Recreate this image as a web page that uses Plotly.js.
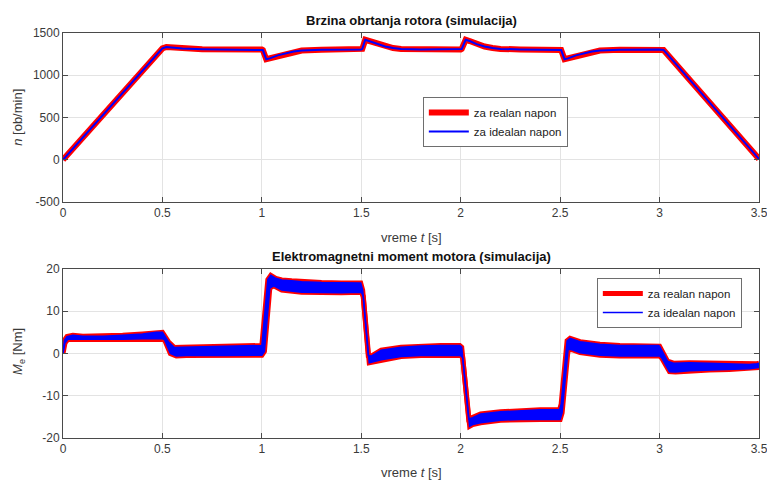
<!DOCTYPE html>
<html>
<head>
<meta charset="utf-8">
<script src="https://cdn.plot.ly/plotly-3.0.1.min.js"></script>
<style>
  html, body { margin: 0; padding: 0; background: #ffffff; }
  #grafik { width: 767px; height: 480px; }
</style>
</head>
<body>
<div id="grafik"></div>
<script>
// Brzina obrtanja rotora n [ob/min] u funkciji vremena t [s]
const tBrzina = [0, 0.5, 0.52, 0.55, 0.6, 0.7, 1.0, 1.005, 1.022, 1.04, 1.08, 1.12, 1.16, 1.2, 1.3,
                 1.5, 1.505, 1.52, 1.54, 1.58, 1.62, 1.66, 1.7, 1.8,
                 2.0, 2.005, 2.025, 2.045, 2.08, 2.12, 2.16, 2.2, 2.3,
                 2.5, 2.505, 2.522, 2.54, 2.58, 2.62, 2.66, 2.7, 2.8, 3.0, 3.02, 3.5];
const nBrzina = [0, 1318, 1334, 1328, 1316, 1308, 1305, 1298, 1190, 1200, 1235, 1260, 1280, 1292, 1302,
                 1305, 1312, 1420, 1405, 1368, 1340, 1322, 1312, 1306,
                 1305, 1312, 1420, 1405, 1368, 1340, 1322, 1312, 1306,
                 1305, 1298, 1190, 1200, 1235, 1262, 1282, 1293, 1302, 1305, 1300, 10];

// Elektromagnetni moment Me [Nm]: gornja i donja anvelopa talasnog opsega
const tGornja = [0, 0.008, 0.02, 0.05, 0.1, 0.2, 0.3, 0.4, 0.47, 0.5, 0.53, 0.56, 0.6, 0.8, 0.99,
                 1.0, 1.03, 1.045, 1.07, 1.1, 1.15, 1.2, 1.3, 1.4, 1.497,
                 1.507, 1.535, 1.55, 1.6, 1.7, 1.8, 1.9, 1.995,
                 2.005, 2.04, 2.06, 2.1, 2.2, 2.3, 2.4, 2.497,
                 2.505, 2.535, 2.55, 2.6, 2.7, 2.8, 2.9, 2.995,
                 3.0, 3.04, 3.07, 3.15, 3.25, 3.35, 3.45, 3.49, 3.5];
const mGornja = [0.5, 3.2, 4.0, 4.3, 4.1, 4.1, 4.3, 4.6, 5.0, 5.0, 2.8, 1.4, 1.5, 1.7, 1.9,
                 1.9, 17.5, 18.5, 17.8, 17.4, 17.2, 17.0, 16.8, 16.7, 16.7,
                 15.0, -0.5, -0.6, 0.8, 1.5, 1.8, 1.9, 1.9,
                 1.5, -15.5, -15.2, -14.3, -13.8, -13.5, -13.3, -13.3,
                 -12.0, 3.0, 3.6, 2.8, 2.2, 1.9, 1.9, 1.9,
                 1.7, -1.8, -2.3, -2.2, -2.3, -2.4, -2.6, -2.4, -2.3];
const tDonja = [0, 0.01, 0.025, 0.05, 0.1, 0.2, 0.3, 0.4, 0.5, 0.51, 0.54, 0.57, 0.62, 0.8, 1.0,
                1.013, 1.04, 1.06, 1.1, 1.2, 1.3, 1.4, 1.5,
                1.51, 1.54, 1.56, 1.6, 1.7, 1.8, 2.0,
                2.01, 2.045, 2.06, 2.1, 2.2, 2.3, 2.4, 2.5,
                2.51, 2.54, 2.56, 2.6, 2.7, 2.8, 3.0,
                3.01, 3.05, 3.08, 3.15, 3.25, 3.35, 3.45, 3.5];
const mDonja = [0, 2.5, 3.4, 3.4, 3.4, 3.3, 3.4, 3.5, 3.5, 3.3, 0.0, -0.6, -0.5, -0.5, -0.4,
                0.5, 15.5, 16.0, 15.0, 14.5, 14.4, 14.4, 14.5,
                13.5, -2.2, -2.0, -1.5, -0.7, -0.5, -0.5,
                -1.0, -17.2, -16.8, -16.4, -15.8, -15.6, -15.6, -15.6,
                -14.0, 1.0, 0.9, 0.2, -0.4, -0.6, -0.6,
                -1.0, -4.3, -4.4, -4.1, -3.9, -3.8, -3.6, -3.3];

const xTicks = [0, 0.5, 1, 1.5, 2, 2.5, 3, 3.5];
const xTickLabels = ['0', '0.5', '1', '1.5', '2', '2.5', '3', '3.5'];
const nTicks = [-500, 0, 500, 1000, 1500];
const nTickLabels = ['-500', '0', '500', '1000', '1500'];
const mTicks = [-20, -10, 0, 10, 20];
const mTickLabels = ['-20', '-10', '0', '10', '20'];

const realanBoja = '#ff0000';
const idealanBoja = '#0000ff';

const traces = [
  { x: tBrzina, y: nBrzina, xaxis: 'x', yaxis: 'y', mode: 'lines', name: 'za realan napon',
    line: { color: realanBoja, width: 6 }, legend: 'legend' },
  { x: tBrzina, y: nBrzina, xaxis: 'x', yaxis: 'y', mode: 'lines', name: 'za idealan napon',
    line: { color: idealanBoja, width: 2 }, legend: 'legend' },

  { x: tGornja, y: mGornja, xaxis: 'x2', yaxis: 'y2', mode: 'lines', name: 'za realan napon',
    line: { color: realanBoja, width: 5 }, legend: 'legend2' },
  { x: tDonja, y: mDonja, xaxis: 'x2', yaxis: 'y2', mode: 'lines', name: 'za realan napon',
    line: { color: realanBoja, width: 5 }, showlegend: false },
  { x: tDonja, y: mDonja, xaxis: 'x2', yaxis: 'y2', mode: 'lines', name: 'za idealan napon',
    line: { color: idealanBoja, width: 1.5 }, legend: 'legend2' },
  { x: tGornja, y: mGornja, xaxis: 'x2', yaxis: 'y2', mode: 'lines', name: 'za idealan napon',
    line: { color: idealanBoja, width: 1.5 }, fill: 'tonexty', fillcolor: idealanBoja, showlegend: false }
];

const tekst = '#3a3a3a';
const okvir = '#4a4a4a';
const mreza = '#e3e3e3';

function osa(extra) {
  return Object.assign({
    showline: true, linecolor: okvir, linewidth: 1, mirror: 'ticks',
    ticks: 'inside', ticklen: 5, tickcolor: okvir, tickwidth: 1,
    showgrid: true, gridcolor: mreza, gridwidth: 1,
    zeroline: false, ticklabeloverflow: 'allow',
    tickfont: { family: 'Liberation Sans, Arial, sans-serif', size: 12, color: tekst }
  }, extra);
}

const legendaStil = {
  bgcolor: '#ffffff', bordercolor: '#6e6e6e', borderwidth: 1,
  font: { family: 'Liberation Sans, Arial, sans-serif', size: 11.5, color: '#222222' },
  xanchor: 'left', yanchor: 'top', traceorder: 'normal', itemwidth: 40, tracegroupgap: 0
};

const naslovFont = { family: 'Liberation Sans, Arial, sans-serif', size: 13, color: '#111111', weight: 'bold' };
const osaFont = { family: 'Liberation Sans, Arial, sans-serif', size: 13, color: tekst };

const layout = {
  width: 767, height: 480,
  margin: { l: 63, r: 8, t: 33, b: 42 },
  paper_bgcolor: '#ffffff', plot_bgcolor: '#ffffff',
  showlegend: true,
  xaxis: osa({ domain: [0, 1], range: [0, 3.5], tickvals: xTicks, ticktext: xTickLabels, anchor: 'y' }),
  yaxis: osa({ domain: [0.5827, 1], range: [-500, 1500], tickvals: nTicks, ticktext: nTickLabels, anchor: 'x' }),
  xaxis2: osa({ domain: [0, 1], range: [0, 3.5], tickvals: xTicks, ticktext: xTickLabels, anchor: 'y2' }),
  yaxis2: osa({ domain: [0, 0.4173], range: [-20, 20], tickvals: mTicks, ticktext: mTickLabels, anchor: 'x2' }),
  legend: Object.assign({ x: 0.517, y: 0.842 }, legendaStil),
  legend2: Object.assign({ x: 0.767, y: 0.395 }, legendaStil),
  annotations: [
    { text: '<b>Brzina obrtanja rotora (simulacija)</b>', xref: 'paper', yref: 'paper', x: 0.5, y: 1.032,
      xanchor: 'center', yanchor: 'middle', showarrow: false, font: naslovFont },
    { text: '<b>Elektromagnetni moment motora (simulacija)</b>', xref: 'paper', yref: 'paper', x: 0.5, y: 0.447,
      xanchor: 'center', yanchor: 'middle', showarrow: false, font: naslovFont },
    { text: 'vreme <i>t</i> [s]', xref: 'paper', yref: 'paper', x: 0.5, y: 0.494,
      xanchor: 'center', yanchor: 'middle', showarrow: false, font: osaFont },
    { text: 'vreme <i>t</i> [s]', xref: 'paper', yref: 'paper', x: 0.5, y: -0.084,
      xanchor: 'center', yanchor: 'middle', showarrow: false, font: osaFont },
    { text: '<i>n</i> [ob/min]', xref: 'paper', yref: 'paper', x: -0.0647, y: 0.793, textangle: -90,
      xanchor: 'center', yanchor: 'middle', showarrow: false, font: osaFont },
    { text: '<i>M</i><sub>e</sub> [Nm]', xref: 'paper', yref: 'paper', x: -0.063, y: 0.213, textangle: -90,
      xanchor: 'center', yanchor: 'middle', showarrow: false, font: osaFont }
  ]
};

Plotly.newPlot('grafik', traces, layout, { displayModeBar: false, staticPlot: true });
</script>
</body>
</html>
